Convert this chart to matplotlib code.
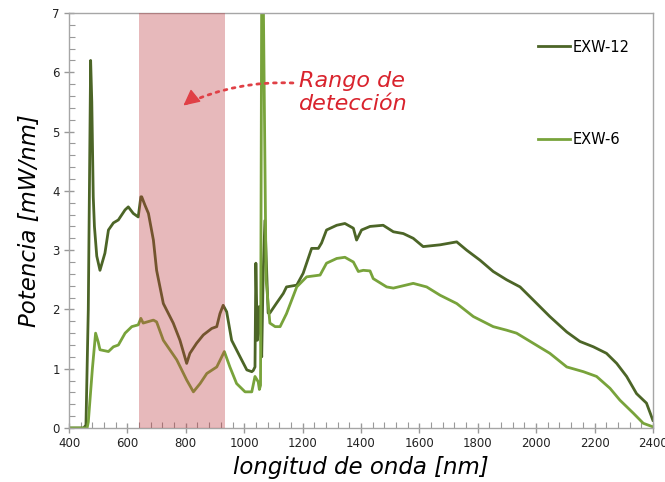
import matplotlib
matplotlib.use('Agg')
import matplotlib.pyplot as plt
from matplotlib.ticker import MultipleLocator

# EXW-12 spectrum (wavelength nm, power mW/nm)
wl_12 = [400, 450, 458, 466, 474, 478, 483, 487, 495, 506, 523, 535, 552, 569, 592, 603,
         620, 637, 646, 649, 660, 672, 689, 700, 723, 757, 780, 803, 814, 837, 860, 889,
         906, 917, 928, 940, 957, 986, 1009, 1026, 1031, 1037, 1040, 1045, 1048, 1052,
         1056, 1060, 1065, 1071, 1082, 1088, 1110, 1134, 1145, 1180, 1202, 1231, 1254,
         1265, 1282, 1317, 1345, 1374, 1385, 1402, 1431, 1476, 1511, 1545, 1579, 1613,
         1671, 1728, 1762, 1808, 1853, 1899, 1945, 1990, 2047, 2105, 2150, 2196, 2241,
         2276, 2310, 2344, 2378, 2400]
pw_12 = [0, 0, 0.05, 2.0, 6.2, 5.5, 3.9, 3.4, 2.9, 2.66, 2.95, 3.34, 3.46, 3.51, 3.68, 3.73,
         3.62, 3.56, 3.9, 3.9, 3.76, 3.62, 3.17, 2.66, 2.10, 1.77, 1.48, 1.09, 1.26, 1.43, 1.57, 1.68,
         1.71, 1.93, 2.07, 1.96, 1.48, 1.20, 0.98, 0.95, 0.97, 1.03, 2.78, 1.48, 1.6, 2.05,
         1.77, 1.2, 2.6, 3.5, 1.94, 1.94, 2.10, 2.27, 2.38, 2.41, 2.61, 3.03, 3.03,
         3.12, 3.34, 3.42, 3.45, 3.37, 3.17, 3.34, 3.40, 3.42, 3.31, 3.28, 3.20, 3.06,
         3.09, 3.14, 3.00, 2.83, 2.64, 2.50, 2.38, 2.16, 1.88, 1.62, 1.46, 1.37, 1.26,
         1.09, 0.87, 0.58, 0.42, 0.13]

# EXW-6 spectrum
wl_6 = [400, 462, 466, 480, 491, 500, 506, 535, 552, 569, 592, 615, 637, 646, 654, 689,
        700, 723, 769, 803, 826, 849, 872, 906, 932, 951, 974, 1003, 1026, 1037, 1048,
        1052, 1056, 1060, 1065, 1075, 1088, 1106, 1123, 1145, 1180, 1214, 1260, 1282,
        1317, 1345, 1374, 1391, 1408, 1431, 1442, 1488, 1511, 1579, 1625, 1671, 1728,
        1785, 1853, 1899, 1933, 1990, 2047, 2105, 2162, 2207, 2253, 2287, 2333, 2367, 2400]
pw_6 = [0, 0, 0.1, 1.0, 1.60, 1.45, 1.32, 1.29, 1.37, 1.40, 1.60, 1.71, 1.74, 1.85, 1.77, 1.82,
        1.79, 1.48, 1.15, 0.81, 0.61, 0.75, 0.92, 1.03, 1.29, 1.03, 0.75, 0.61, 0.61, 0.87, 0.78,
        0.65, 0.72, 7.5, 7.5, 2.50, 1.77, 1.71, 1.71, 1.93, 2.38, 2.55, 2.58, 2.78,
        2.86, 2.88, 2.80, 2.64, 2.66, 2.65, 2.52, 2.38, 2.36, 2.44, 2.38, 2.24, 2.10,
        1.88, 1.71, 1.65, 1.60, 1.43, 1.26, 1.03, 0.95, 0.87, 0.67, 0.47, 0.25, 0.08, 0.02]

det_range = (640, 935)

c12 = '#4c6527'
c6 = '#78a33b'
red = '#d9232d'

fig = plt.figure(figsize=(6.65, 4.82), dpi=100)
ax = fig.add_axes([0.1038, 0.112, 0.878, 0.861])

ax.plot(wl_12, pw_12, color=c12, linewidth=2.0, label='EXW-12', zorder=2)
ax.plot(wl_6, pw_6, color=c6, linewidth=2.0, label='EXW-6', zorder=2)
ax.axvspan(det_range[0], det_range[1], color=(189/255, 55/255, 61/255), alpha=0.35,
           linewidth=0, zorder=3)

ax.set_xlim(400, 2400)
ax.set_ylim(0, 7)
ax.xaxis.set_major_locator(MultipleLocator(200))
ax.xaxis.set_minor_locator(MultipleLocator(40))
ax.yaxis.set_major_locator(MultipleLocator(1))
ax.yaxis.set_minor_locator(MultipleLocator(0.2))
ax.tick_params(which='major', direction='inout', length=7, width=1, color='#999999',
               labelsize=8.5, labelcolor='#222222', pad=3)
ax.tick_params(which='minor', direction='in', length=4, width=0.8, color='#999999')
for s in ax.spines.values():
    s.set_color('#a6a6a6')
    s.set_linewidth(1)

ax.set_xlabel('longitud de onda [nm]', fontsize=16.5, style='italic', labelpad=4)
ax.set_ylabel('Potencia [mW/nm]', fontsize=16.5, style='italic', labelpad=8)

ax.legend(loc='upper left', bbox_to_anchor=(0.803, 0.936), frameon=False,
          borderpad=0, borderaxespad=0, labelspacing=5.3, handlelength=2.2,
          handletextpad=0.15, fontsize=10.5)

ax.text(1188, 5.66, 'Rango de\ndetección', color=red, fontsize=16, style='italic',
        ha='left', va='center', linespacing=1.2, zorder=5)
# dotted curve, then a solid head at its end
ax.annotate('', xy=(800, 5.47), xytext=(1167, 5.82),
            arrowprops=dict(arrowstyle='-', color='#e04046', linewidth=2,
                            linestyle=(0, (1, 2)),
                            connectionstyle='arc3,rad=0.12', shrinkA=0, shrinkB=0),
            zorder=5)
ax.annotate('', xy=(792, 5.44), xytext=(812, 5.52),
            arrowprops=dict(arrowstyle='-|>,head_length=0.9,head_width=0.45',
                            color='#e04046', linewidth=1, mutation_scale=11,
                            shrinkA=0, shrinkB=0),
            zorder=5)

fig.savefig('out.png', dpi=100)
